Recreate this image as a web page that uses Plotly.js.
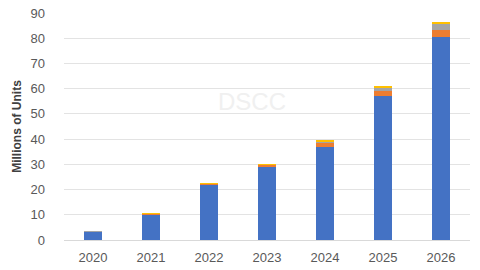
<!DOCTYPE html>
<html>
<head>
<meta charset="utf-8">
<script src="https://cdn.plot.ly/plotly-3.0.1.min.js"></script>
<style>html,body{margin:0;padding:0;background:#fff;}#chart{width:480px;height:270px;}</style>
</head>
<body>
<div id="chart"></div>
<script>
const years = ['2020','2021','2022','2023','2024','2025','2026'];
const seriesA = [3.3, 10.1, 21.9, 29.1, 37.0, 57.2, 80.4];
const seriesB = [0.05, 0.1, 0.2, 0.6, 1.5, 2.0, 2.8];
const seriesC = [0.05, 0.1, 0.1, 0.2, 0.5, 1.2, 2.6];
const seriesD = [0.1, 0.3, 0.3, 0.3, 0.5, 0.6, 0.6];
const colors = ['#4472C4', '#ED7D31', '#A5A5A5', '#FFC000'];
const tickVals = [0,10,20,30,40,50,60,70,80,90];

const traces = [seriesA, seriesB, seriesC, seriesD].map((s, i) => ({
  type: 'bar', x: years, y: s,
  marker: {color: colors[i], line: {width: 0}},
  hoverinfo: 'none'
}));

const layout = {
  width: 480, height: 270,
  margin: {l: 64, r: 10, t: 13, b: 30},
  barmode: 'stack', bargap: 0.69,
  showlegend: false,
  paper_bgcolor: '#fff', plot_bgcolor: '#fff',
  font: {family: 'Liberation Sans, Arial, sans-serif', size: 13, color: '#595959'},
  xaxis: {
    type: 'category', showgrid: false, zeroline: false,
    showline: true, linecolor: '#D9D9D9', linewidth: 1,
    ticks: '', ticklabelstandoff: 5, tickfont: {size: 13, color: '#595959'}
  },
  yaxis: {
    range: [0, 90], tickvals: tickVals, showgrid: true, gridcolor: '#E3E3E3', gridwidth: 1,
    zeroline: false, showline: false, ticks: '',
    ticklabelstandoff: 18,
    tickfont: {size: 13, color: '#595959'},
    title: {text: '<b>Millions of Units</b>', font: {size: 12, color: '#404040'}, standoff: 6}
  },
  annotations: [{
    text: 'DSCC', x: 0.463, y: 0.608, xref: 'paper', yref: 'paper',
    showarrow: false, font: {size: 24, color: '#F0F0F0'}
  }]
};
Plotly.newPlot('chart', traces, layout, {staticPlot: true});
</script>
</body>
</html>
